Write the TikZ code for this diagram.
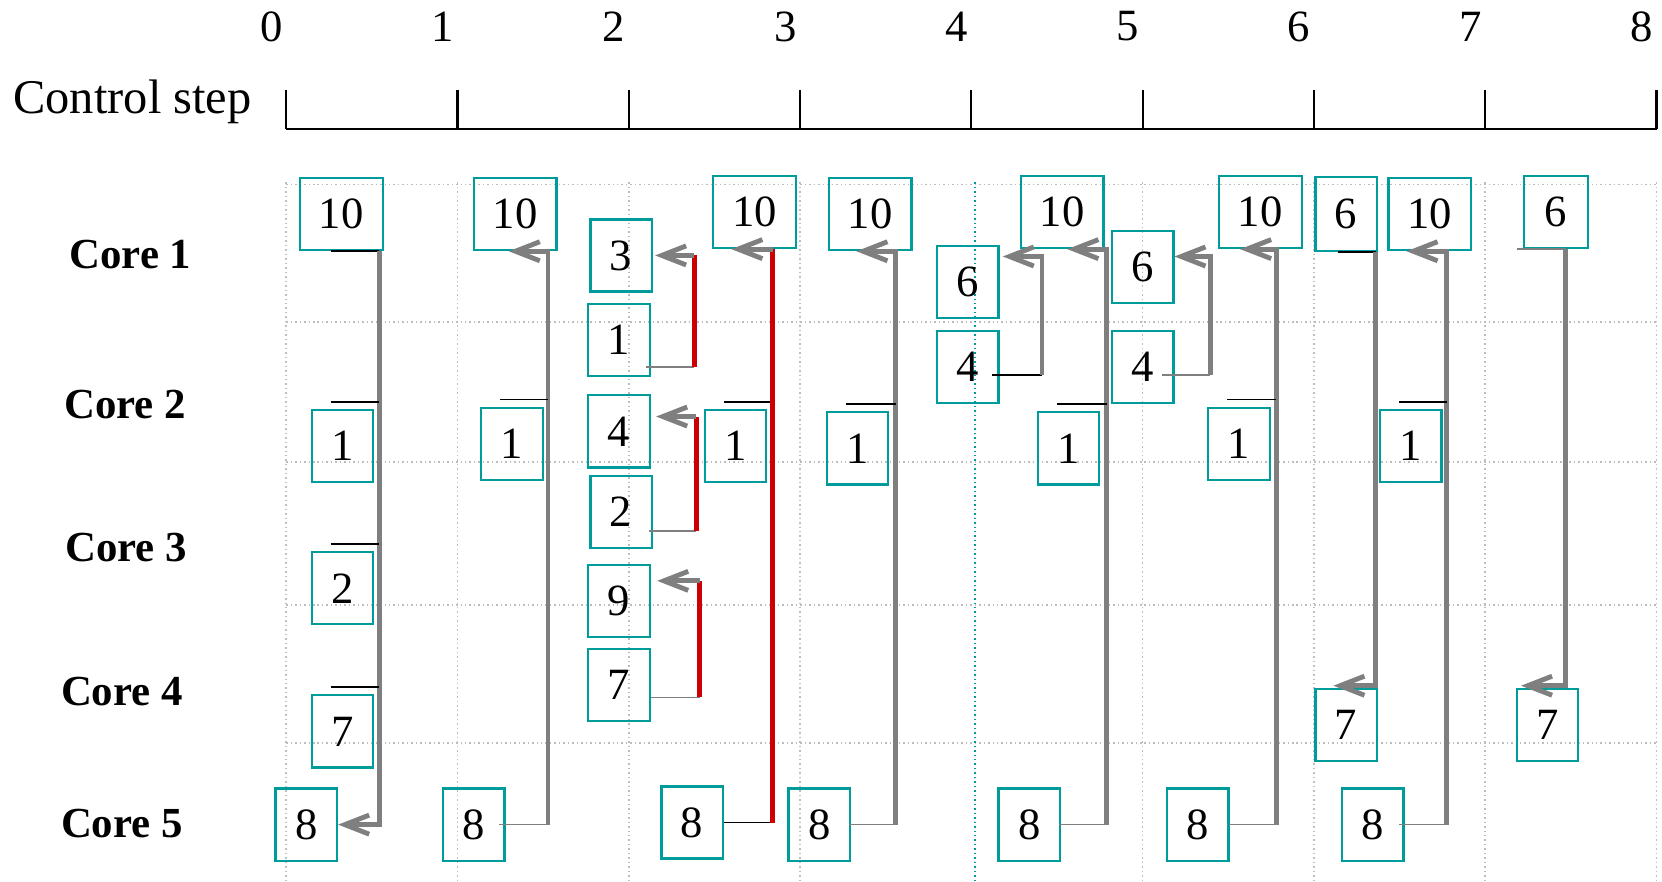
\documentclass[tikz,border=0pt]{standalone}
\usepackage{fontspec}
\setmainfont{Liberation Serif}
\usetikzlibrary{arrows.meta}
\definecolor{colorbox}{HTML}{009C9C}
\definecolor{colorlink}{HTML}{7F7F7F}
\definecolor{colorhot}{HTML}{CC0000}
\definecolor{colorgrid}{HTML}{BDBDBD}

\begin{document}
\begin{tikzpicture}[
    % Boxes holding the operation numbers
    op/.style={
        rectangle,
        draw=colorbox,
        line width=0.6pt,
        minimum width=0.58cm,
        minimum height=0.68cm,
        inner sep=0pt,
        font=\fontsize{12}{12}\selectfont
    },
    % Wider boxes for the two-digit operation
    wideop/.style={
        op,
        minimum width=0.78cm
    },
    corelabel/.style={font=\bfseries\fontsize{11.5}{12}\selectfont, inner sep=0pt},
    numlabel/.style={font=\fontsize{12}{12}\selectfont, inner sep=0pt},
    gridline/.style={colorgrid, line width=0.4pt, dash pattern=on 0.4pt off 0.8pt},
    % Transfer lines
    bus/.style={colorlink, line width=1.3pt},
    hot/.style={colorhot, line width=1.3pt},
    feed/.style={colorlink, line width=0.45pt},
    tap/.style={black, line width=0.5pt},
    arrow/.style={
        bus,
        -{Straight Barb[length=2.3mm, width=1.8mm]}
    }
]
\useasboundingbox (0,0) rectangle (15.68,-8.32);

% ==============================
% Control step axis
% ==============================
\node[anchor=west, inner sep=0pt, font=\fontsize{13}{13}\selectfont] (ctrl) at (0.12,-0.96) {Control step};
\draw[line width=0.6pt] (2.70,-1.22) -- (15.63,-1.22);
\foreach \i in {0,...,8} {
    \draw[line width=0.6pt] ({2.70+1.616*\i},-0.85) -- ({2.70+1.616*\i},-1.22);
    \node[numlabel] (num\i) at ({2.56+1.616*\i},-0.25) {\i};
}

% ==============================
% Grid
% ==============================
\foreach \y in {-1.74,-3.04,-4.36,-5.71,-7.01}
    \draw[gridline] (2.70,\y) -- (15.63,\y);
\foreach \i in {0,1,2,3,5,6,7,8}
    \draw[gridline] ({2.70+1.616*\i},-1.72) -- ({2.70+1.616*\i},-8.32);
\draw[colorbox, line width=0.4pt, dash pattern=on 0.4pt off 0.8pt] (9.20,-1.72) -- (9.20,-8.32);

% ==============================
% Cores
% ==============================
\node[corelabel] (core1) at (1.23,-2.40) {Core 1};
\node[corelabel] (core2) at (1.18,-3.82) {Core 2};
\node[corelabel] (core3) at (1.19,-5.17) {Core 3};
\node[corelabel] (core4) at (1.15,-6.52) {Core 4};
\node[corelabel] (core5) at (1.15,-7.77) {Core 5};

% ==============================
% Operations
% ==============================
\node[wideop] (t0) at (3.22,-2.02) {10};
\node[op] (a0) at (3.23,-4.21) {1};
\node[op] (b0) at (3.23,-5.55) {2};
\node[op] (c0) at (3.23,-6.90) {7};
\node[op] (e0) at (2.89,-7.78) {8};

\node[wideop] (t1) at (4.86,-2.02) {10};
\node[op] (a1) at (4.83,-4.19) {1};
\node[op] (e1) at (4.47,-7.78) {8};

\node[op] (p3) at (5.86,-2.41) {3};
\node[op] (p1) at (5.84,-3.21) {1};
\node[op] (p4) at (5.84,-4.07) {4};
\node[op] (p2) at (5.86,-4.83) {2};
\node[op] (p9) at (5.84,-5.67) {9};
\node[op] (p7) at (5.84,-6.46) {7};

\node[wideop] (t2) at (7.12,-2.00) {10};
\node[op] (a2) at (6.94,-4.21) {1};
\node[op] (e2) at (6.53,-7.76) {8};

\node[wideop] (t3) at (8.21,-2.02) {10};
\node[op] (a3) at (8.09,-4.23) {1};
\node[op] (e3) at (7.73,-7.78) {8};

\node[op] (s4) at (9.13,-2.66) {6};
\node[op] (f4) at (9.13,-3.46) {4};
\node[wideop] (t4) at (10.02,-2.00) {10};
\node[op] (a4) at (10.08,-4.23) {1};
\node[op] (e4) at (9.71,-7.78) {8};

\node[op] (s5) at (10.78,-2.52) {6};
\node[op] (f5) at (10.78,-3.46) {4};
\node[wideop] (t5) at (11.89,-2.00) {10};
\node[op] (a5) at (11.69,-4.19) {1};
\node[op] (e5) at (11.30,-7.78) {8};

\node[op, minimum height=0.70cm] (s6) at (12.70,-2.02) {6};
\node[op] (g6) at (12.70,-6.84) {7};
\node[wideop] (t6) at (13.49,-2.02) {10};
\node[op] (a6) at (13.31,-4.21) {1};
\node[op] (e6) at (12.95,-7.78) {8};

\node[op, minimum width=0.60cm] (s7) at (14.68,-2.00) {6};
\node[op] (g7) at (14.60,-6.84) {7};

% ==============================
% Vertical lines of each column
% ==============================
\coordinate (bus0) at (3.58,0);
\coordinate (bus1) at (5.17,0);
\coordinate (r1) at (6.55,0);
\coordinate (r2) at (6.57,0);
\coordinate (r3) at (6.60,0);
\coordinate (bus2) at (7.29,0);
\coordinate (bus3) at (8.45,0);
\coordinate (l4) at (9.83,0);
\coordinate (bus4) at (10.44,0);
\coordinate (l5) at (11.42,0);
\coordinate (bus5) at (12.04,0);
\coordinate (l6) at (12.98,0);
\coordinate (bus6) at (13.65,0);
\coordinate (l7) at (14.77,0);

% ==============================
% Column 0: 10 down to 8
% ==============================
\draw[tap] ([xshift=-0.10cm]t0.south) -- (t0.south -| bus0);
\draw[arrow] (t0.south -| bus0) |- (e0.east);
\foreach \n in {a0,b0,c0} {
    \coordinate (tap\n) at ([shift={(-0.11,0.07)}]\n.north);
    \draw[tap] (tap\n) -- (tap\n -| bus0);
}

% ==============================
% Columns 1, 3, 4, 5, 6: 8 up to 10
% ==============================
\draw[feed] ([xshift=-0.06cm]e1.east) -- (e1.east -| bus1);
\draw[arrow] (e1.east -| bus1) |- ([xshift=-0.06cm]t1.south);

\draw[feed] ([xshift=-0.02cm]e3.east) -- (e3.east -| bus3);
\draw[arrow] (e3.east -| bus3) |- ([xshift=-0.13cm]t3.south);

\draw[feed] ([xshift=-0.02cm]e4.east) -- (e4.east -| bus4);
\draw[arrow] (e4.east -| bus4) |- ([xshift=0.05cm]t4.south);

\draw[feed] ([xshift=-0.01cm]e5.east) -- (e5.east -| bus5);
\draw[arrow] (e5.east -| bus5) |- ([xshift=-0.19cm]t5.south);

\draw[feed] ([xshift=-0.05cm]e6.east) -- (e6.east -| bus6);
\draw[arrow] (e6.east -| bus6) |- ([xshift=-0.22cm]t6.south);

\foreach \n/\b in {a1/bus1,a3/bus3,a4/bus4,a5/bus5,a6/bus6,a2/bus2} {
    \coordinate (tap\n) at ([shift={(-0.11,0.07)}]\n.north);
    \draw[tap] (tap\n) -- (tap\n -| \b);
}

% ==============================
% Column 2: red transfers
% ==============================
\draw[tap] (e2.east) -- (e2.east -| bus2);
\draw[hot] (e2.east -| bus2) -- (bus2 |- t2.south);
\draw[arrow] (bus2 |- t2.south) -- ([xshift=-0.22cm]t2.south);

\coordinate (out1) at ([shift={(-0.05,-0.25)}]p1.east);
\coordinate (in3) at ([xshift=0.02cm]p3.east);
\draw[feed] (out1) -- (out1 -| r1);
\draw[hot] (out1 -| r1) -- (r1 |- in3);
\draw[arrow] (r1 |- in3) -- (in3);

\coordinate (out2) at ([shift={(-0.04,-0.18)}]p2.east);
\coordinate (in4) at ([shift={(0.05,0.14)}]p4.east);
\draw[feed] (out2) -- (out2 -| r2);
\draw[hot] (out2 -| r2) -- (r2 |- in4);
\draw[arrow] (r2 |- in4) -- (in4);

\coordinate (out7) at ([yshift=-0.12cm]p7.east);
\coordinate (in9) at ([shift={(0.06,0.19)}]p9.east);
\draw[feed] (out7) -- (out7 -| r3);
\draw[hot] (out7 -| r3) -- (r3 |- in9);
\draw[arrow] (r3 |- in9) -- (in9);

% ==============================
% 4 to 6
% ==============================
\coordinate (out4) at ([shift={(-0.07,-0.08)}]f4.east);
\draw[tap] (out4) -- (out4 -| l4);
\draw[arrow] (out4 -| l4) |- ([shift={(0.03,0.24)}]s4.east);

\coordinate (out5) at ([shift={(-0.12,-0.08)}]f5.east);
\draw[feed] (out5) -- (out5 -| l5);
\draw[arrow] (out5 -| l5) |- ([yshift=0.10cm]s5.east);

% ==============================
% 6 down to 7
% ==============================
\draw[tap] ([xshift=-0.08cm]s6.south) -- (s6.south -| l6);
\draw[arrow] (s6.south -| l6) |- ([shift={(-0.12,0.02)}]g6.north);

\draw[feed] ([xshift=-0.37cm]s7.south) -- (s7.south -| l7);
\draw[arrow] (s7.south -| l7) |- ([shift={(-0.25,0.02)}]g7.north);

\end{tikzpicture}
\end{document}
